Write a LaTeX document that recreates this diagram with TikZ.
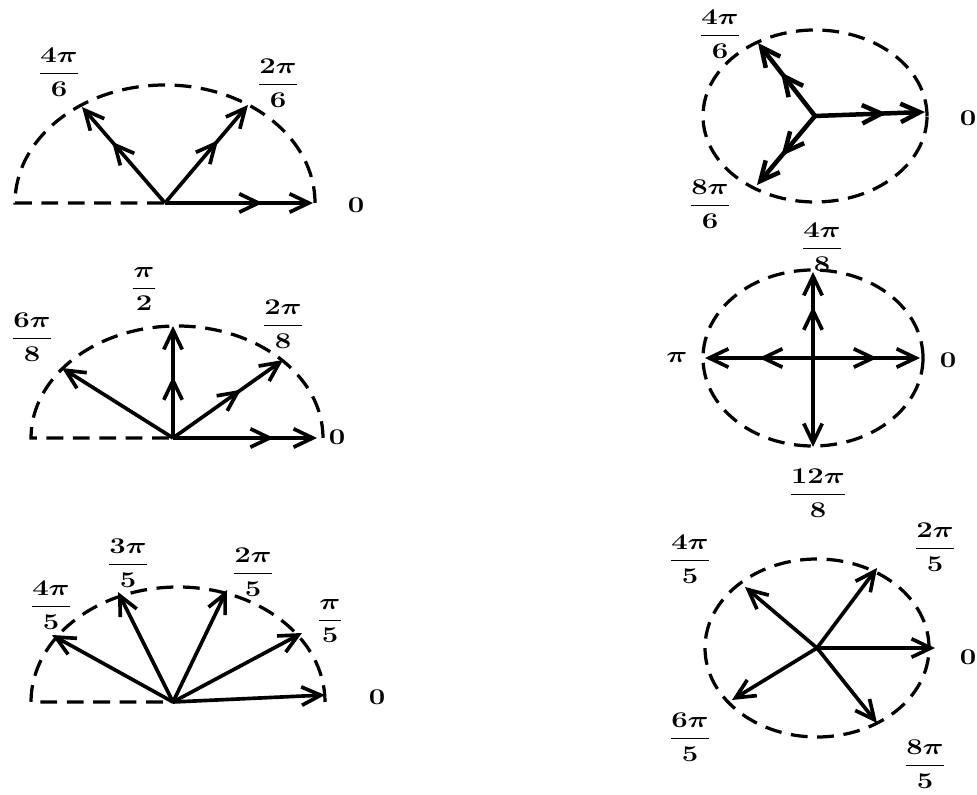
\RequirePackage{fix-cm}
\documentclass[tikz,border=0pt]{standalone}
\usepackage{amsmath}
\usetikzlibrary{arrows.meta,decorations.markings}

\tikzset{
  barb/.tip={Straight Barb[length=4.8mm,width=4.6mm]},
  vec/.style={line width=2.6pt, -barb},
  midhead/.style={postaction={decorate},
    decoration={markings, mark=at position #1 with {\arrow{barb}}}},
  rim/.style={line width=2.3pt, dash pattern=on 0.42cm off 0.24cm},
  lbl/.style={xscale=1.3, inner sep=1pt}
}

\begin{document}
\begin{tikzpicture}[x=0.025cm, y=0.025cm, font=\fontsize{16}{19}\selectfont\boldmath]
    \useasboundingbox (0,0) rectangle (977,794);
    \def\px{0.025cm}

    % --- Half circle, sixths (top left) ---
    \coordinate (cA) at (165,591);
    \draw[rim] (cA) ++(150,0) arc[start angle=0, end angle=180, x radius={150*\px}, y radius={118*\px}] -- (cA);
    \coordinate (A0) at (313,591);
    \coordinate (A2) at (248,689);
    \coordinate (A4) at (82,687);
    \draw[vec, midhead=0.66] (cA) -- (A0);
    \draw[vec, midhead=0.64] (cA) -- (A2);
    \draw[vec, midhead=0.64] (cA) -- (A4);
    \node[lbl] (lA4) at (59,722) {$\dfrac{4\pi}{6}$};
    \node[lbl] (lA2) at (278,711) {$\dfrac{2\pi}{6}$};
    \node[lbl] (lA0) at (356,589) {$0$};

    % --- Full circle, sixths (top right) ---
    \coordinate (cB) at (815,678);
    \draw[rim] (cB) ellipse[x radius={112*\px}, y radius={86*\px}];
    \coordinate (B0) at (925,682);
    \coordinate (B4) at (758,751);
    \coordinate (B8) at (757,609);
    \draw[vec, line width=3.2pt, midhead=0.65] (cB) -- (B0);
    \draw[vec, line width=3.2pt, midhead=0.6] (cB) -- (B4);
    \draw[vec, line width=3.2pt, midhead=0.58] (cB) -- (B8);
    \node[lbl] (lB4) at (720,760) {$\dfrac{4\pi}{6}$};
    \node[lbl] (lB8) at (710,590) {$\dfrac{8\pi}{6}$};
    \node[lbl] (lB0) at (968,676) {$0$};

    % --- Half circle, eighths (middle left) ---
    \coordinate (cC) at (173,356);
    \draw[rim] (cC) ++(150,0) arc[start angle=0, end angle=180, x radius={146*\px}, y radius={112*\px}] -- (cC);
    \coordinate (C0) at (317,356);
    \coordinate (C2) at (283,434);
    \coordinate (C4) at (173,468);
    \coordinate (C6) at (62,426);
    \draw[vec, midhead=0.7] (cC) -- (C0);
    \draw[vec, midhead=0.62] (cC) -- (C2);
    \draw[vec, midhead=0.55] (cC) -- (C4);
    \draw[vec] (cC) -- (C6);
    \node[lbl] (lC4) at (144,505) {$\dfrac{\pi}{2}$};
    \node[lbl] (lC6) at (32,457) {$\dfrac{6\pi}{8}$};
    \node[lbl] (lC2) at (283,470) {$\dfrac{2\pi}{8}$};
    \node[lbl] (lC0) at (337,357) {$0$};

    % --- Full circle, eighths (middle right) ---
    \coordinate (cD) at (813,436);
    \draw[rim] (cD) ellipse[x radius={110*\px}, y radius={88*\px}];
    \coordinate (D0) at (920,436);
    \coordinate (D8) at (705,436);
    \coordinate (D4) at (813,522);
    \coordinate (D12) at (813,347);
    \draw[vec, midhead=0.6] (cD) -- (D0);
    \draw[vec, midhead=0.5] (cD) -- (D8);
    \draw[vec, midhead=0.6] (cD) -- (D4);
    \draw[vec] (cD) -- (D12);
    \node[lbl] (lD8) at (677,436) {$\pi$};
    \node[lbl] (lD0) at (948,434) {$0$};
    \node[lbl] (lD4) at (822,547) {$\dfrac{4\pi}{8}$};
    \node[lbl] (lD12) at (818,301) {$\dfrac{12\pi}{8}$};

    % --- Half circle, fifths (bottom left) ---
    \coordinate (cE) at (173,92);
    \draw[rim] (cE) ++(152,0) arc[start angle=0, end angle=180, x radius={147*\px}, y radius={115*\px}] -- (cE);
    \coordinate (E0) at (325,99);
    \coordinate (E1) at (302,161);
    \coordinate (E2) at (227,204);
    \coordinate (E3) at (118,202);
    \coordinate (E4) at (52,159);
    \draw[vec] (cE) -- (E0);
    \draw[vec] (cE) -- (E1);
    \draw[vec] (cE) -- (E2);
    \draw[vec] (cE) -- (E3);
    \draw[vec] (cE) -- (E4);
    \node[lbl] (lE4) at (51,189) {$\dfrac{4\pi}{5}$};
    \node[lbl] (lE3) at (128,231) {$\dfrac{3\pi}{5}$};
    \node[lbl] (lE2) at (253,222) {$\dfrac{2\pi}{5}$};
    \node[lbl] (lE1) at (330,173) {$\dfrac{\pi}{5}$};
    \node[lbl] (lE0) at (377,97) {$0$};

    % --- Full circle, fifths (bottom right) ---
    \coordinate (cF) at (817,146);
    \draw[rim] (cF) ellipse[x radius={112*\px}, y radius={89*\px}];
    \coordinate (F0) at (935,146);
    \coordinate (F2) at (877,226);
    \coordinate (F4) at (745,207);
    \coordinate (F6) at (732,94);
    \coordinate (F8) at (877,71);
    \draw[vec] (cF) -- (F0);
    \draw[vec] (cF) -- (F2);
    \draw[vec] (cF) -- (F4);
    \draw[vec] (cF) -- (F6);
    \draw[vec] (cF) -- (F8);
    \node[lbl] (lF4) at (690,235) {$\dfrac{4\pi}{5}$};
    \node[lbl] (lF2) at (935,247) {$\dfrac{2\pi}{5}$};
    \node[lbl] (lF6) at (690,57) {$\dfrac{6\pi}{5}$};
    \node[lbl] (lF8) at (925,30) {$\dfrac{8\pi}{5}$};
    \node[lbl] (lF0) at (968,137) {$0$};
\end{tikzpicture}
\end{document}
